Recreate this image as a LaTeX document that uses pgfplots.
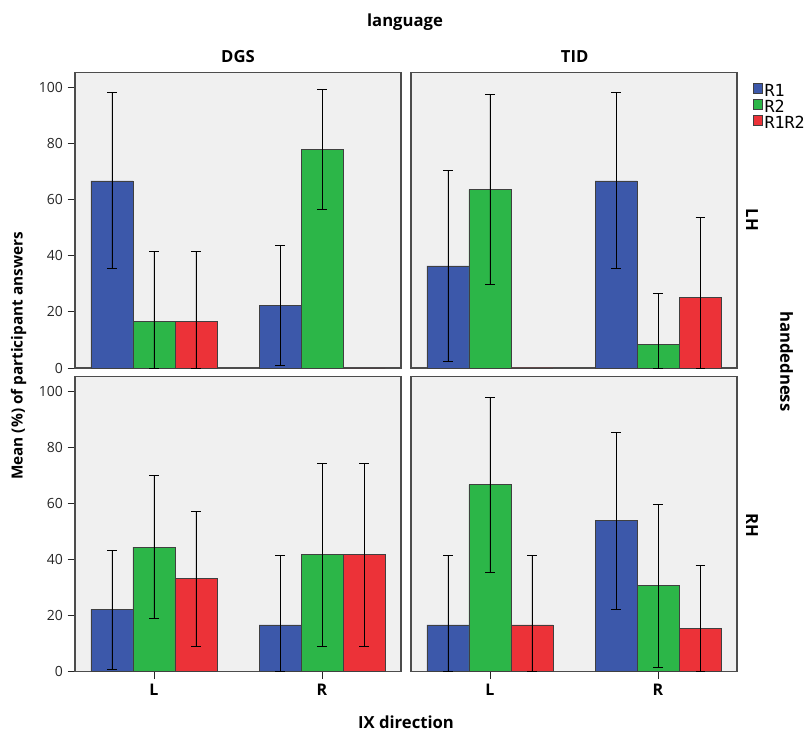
\documentclass[border=0pt]{standalone}
\usepackage{pgfplots}
\pgfplotsset{compat=1.18}
\usepackage{fontspec}
\setmainfont{Open Sans}
\newfontfamily\monofont{DejaVu Sans Mono}
\definecolor{panelbg}{RGB}{240,240,240}
\definecolor{cR1}{RGB}{60,88,170}
\definecolor{cR2}{RGB}{44,182,72}
\definecolor{cR12}{RGB}{236,50,56}
\pgfplotsset{
  panel/.style={
    scale only axis, width=244.5pt, height=221.7pt,
    xmin=-0.47, xmax=1.47, ymin=0, ymax=105.4,
    axis background/.style={fill=panelbg},
    axis line style={draw=black!70, line width=0.8pt},
    ybar, bar width=0.25,
    tick align=outside, major tick length=5.5pt,
    tick style={black!85, line width=0.7pt},
    ytick={0,20,...,100}, ytick pos=left,
    xtick={0,1}, xticklabels={L,R}, xtick pos=bottom,
    /pgf/number format/assume math mode=true,
    yticklabel style={font=\fontsize{10.5}{12}\selectfont, text=black!85},
    xticklabel style={font=\bfseries\fontsize{12}{14}\selectfont},
    clip=false,
  },
  bR1/.style={fill=cR1, draw=black!75, line width=0.6pt, bar shift=-0.25},
  bR2/.style={fill=cR2, draw=black!75, line width=0.6pt, bar shift=0},
  bR12/.style={fill=cR12, draw=black!75, line width=0.6pt, bar shift=0.25},
  err/.style={error bars/.cd, y dir=both, y explicit,
    error bar style={black, line width=0.7pt},
    error mark options={black, line width=0.7pt, rotate=90, mark size=3.4pt}},
}
\begin{document}
\begin{tikzpicture}
% top-left: DGS, LH
\begin{axis}[panel, at={(56.25pt,-276pt)}, anchor=south west, xtick=\empty]
\addplot[bR1, err] coordinates {(0,66.7) += (0,31.6) -= (0,31.2) (1,22.2) += (0,21.4) -= (0,21.4)};
\addplot[bR2, err] coordinates {(0,16.7) += (0,24.7) -= (0,16.7) (1,77.8) += (0,21.5) -= (0,21.1)};
\addplot[bR12, err] coordinates {(0,16.7) += (0,24.7) -= (0,16.7)};
\addplot[bR12] coordinates {(1,0)};
\end{axis}
% top-right: TID, LH
\begin{axis}[panel, at={(308.25pt,-276pt)}, anchor=south west, xtick=\empty, ytick=\empty,
  legend style={at={(1.048,0.966)}, anchor=north west, draw=none, fill=none,
    inner sep=0pt, font=\monofont\fontsize{12.5}{12.5}\selectfont, row sep=0pt,
    column sep=1.2pt,
    nodes={inner sep=0pt, text height=7.5pt, text depth=1.5pt}},
  legend cell align=left,
  legend image code/.code={\draw[#1, line width=0.5pt] (0pt,-0.3pt) rectangle (7pt,7.2pt);}]
\addplot[bR1, err] coordinates {(0,36.4) += (0,34.0) -= (0,33.9) (1,66.7) += (0,31.5) -= (0,31.2)};
\addlegendentry{R1}
\addplot[bR2, err] coordinates {(0,63.6) += (0,34.1) -= (0,33.8) (1,8.3) += (0,18.4) -= (0,8.3)};
\addlegendentry{R2}
\addplot[bR12, err] coordinates {(1,25.0) += (0,28.8) -= (0,25.0)};
\addlegendentry{R1R2}
\addplot[bR12, forget plot] coordinates {(0,0)};
\end{axis}
% bottom-left: DGS, RH
\begin{axis}[panel, at={(56.25pt,-503.8pt)}, anchor=south west]
\addplot[bR1, err] coordinates {(0,22.2) += (0,21.2) -= (0,21.3) (1,16.7) += (0,24.7) -= (0,16.7)};
\addplot[bR2, err] coordinates {(0,44.4) += (0,25.5) -= (0,25.4) (1,41.7) += (0,32.6) -= (0,32.7)};
\addplot[bR12, err] coordinates {(0,33.3) += (0,24.0) -= (0,24.2) (1,41.7) += (0,32.6) -= (0,32.7)};
\end{axis}
% bottom-right: TID, RH
\begin{axis}[panel, at={(308.25pt,-503.8pt)}, anchor=south west, ytick=\empty]
\addplot[bR1, err] coordinates {(0,16.7) += (0,24.7) -= (0,16.7) (1,53.8) += (0,31.4) -= (0,31.5)};
\addplot[bR2, err] coordinates {(0,66.7) += (0,31.2) -= (0,31.4) (1,30.8) += (0,28.9) -= (0,29.1)};
\addplot[bR12, err] coordinates {(0,16.7) += (0,24.7) -= (0,16.7) (1,15.4) += (0,22.6) -= (0,15.4)};
\end{axis}
% labels
\begin{scope}[every node/.style={font=\bfseries\fontsize{12.5}{15}\selectfont, inner sep=0pt}]
\node at (303.75pt,-16.5pt) {language};
\node at (178.5pt,-42.75pt) {DGS};
\node at (431pt,-42.75pt) {TID};
\node[rotate=-90] at (564pt,-165pt) {LH};
\node[rotate=-90] at (564pt,-393.75pt) {RH};
\node[rotate=-90] at (590pt,-271pt) {handedness};
\node[rotate=90, font=\bfseries\fontsize{11.5}{14}\selectfont] at (14pt,-267pt) {Mean (\%) of participant answers};
\node at (304.5pt,-542pt) {IX direction};
\end{scope}
\pgfresetboundingbox
\path[use as bounding box] (0pt,0pt) rectangle (603pt,-548.25pt);
\end{tikzpicture}
\end{document}
